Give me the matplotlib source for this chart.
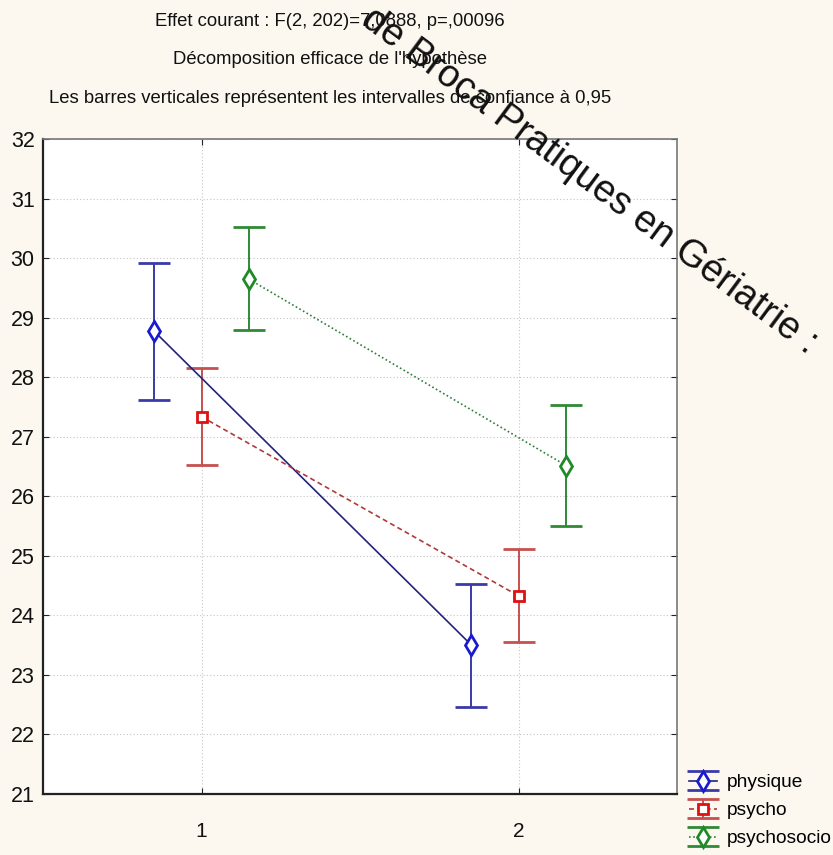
import matplotlib.pyplot as plt
import numpy as np

# données
niveaux = ["1", "2"]
groupes = ["physique", "psycho", "psychosocio"]
moyennes = {
    "physique": [28.78, 23.51],
    "psycho": [27.34, 24.33],
    "psychosocio": [29.65, 26.52],
}
bas = {
    "physique": [27.62, 22.47],
    "psycho": [26.53, 23.55],
    "psychosocio": [28.79, 25.50],
}
haut = {
    "physique": [29.93, 24.53],
    "psycho": [28.16, 25.11],
    "psychosocio": [30.53, 27.54],
}

titres = ["Effet courant : F(2, 202)=7,0888, p=,00096",
          "Décomposition efficace de l'hypothèse",
          "Les barres verticales représentent les intervalles de confiance à 0,95"]
filigrane = "de Broca Pratiques en Gériatrie :"

# styles
decalage = {"physique": -0.15, "psycho": 0.0, "psychosocio": 0.15}
couleur_ligne = {"physique": "#23237a", "psycho": "#b03a3a", "psychosocio": "#2e7d3a"}
couleur_barre = {"physique": "#3a3aa8", "psycho": "#c65050", "psychosocio": "#2f8a35"}
couleur_marque = {"physique": "#1a1ad0", "psycho": "#e01010", "psychosocio": "#1f8a28"}
style = {"physique": "-", "psycho": (0, (3, 2)), "psychosocio": (0, (1, 1.5))}
marque = {"physique": "d", "psycho": "s", "psychosocio": "d"}
taille = {"physique": 10, "psycho": 7.5, "psychosocio": 10}

fond = "#fcf8f0"
police = "Liberation Sans"

fig = plt.figure(figsize=(8.33, 8.55), dpi=100, facecolor=fond)
ax = fig.add_axes([43 / 833, 1 - 794 / 855, 634 / 833, (794 - 139.4) / 855])
ax.set_facecolor("white")

xs = np.arange(1, len(niveaux) + 1)
for g in groupes:
    y = np.array(moyennes[g])
    err = np.array([y - np.array(bas[g]), np.array(haut[g]) - y])
    ax.errorbar(xs + decalage[g], y, yerr=err, color=couleur_ligne[g],
                ls=style[g], lw=1.2, marker=marque[g], ms=taille[g],
                mfc="white", mec=couleur_marque[g], mew=2,
                ecolor=couleur_barre[g], elinewidth=1.4, capsize=11.5,
                capthick=1.6, label=g, zorder=3)

ax.set_xlim(0.5, 2.5)
ax.set_ylim(21, 32)
ax.set_xticks(xs)
ax.set_xticklabels(niveaux, family=police, fontsize=15)
ax.set_yticks(range(21, 33))
ax.set_yticklabels([str(v) for v in range(21, 33)], family=police, fontsize=15.5)
ax.tick_params(axis="both", direction="in", length=4, top=True, right=True,
               colors="#222222", labelcolor="#111111")
ax.tick_params(axis="x", pad=20)
ax.tick_params(axis="y", pad=6)
ax.grid(True, ls=(0, (1, 2)), color="#c4c4c4", lw=0.8)
ax.set_axisbelow(True)
for s in ["left", "bottom"]:
    ax.spines[s].set_color("#222222")
    ax.spines[s].set_linewidth(1.6)
for s in ["top", "right"]:
    ax.spines[s].set_color("#777777")
    ax.spines[s].set_linewidth(1.2)

for i, t in enumerate(titres):
    fig.text(330 / 833, 1 - (21 + 38.5 * i) / 855, t, ha="center", va="center",
             family=police, fontsize=13.3, color="#111111")

fig.legend(loc="upper left", bbox_to_anchor=(689 / 833, 1 - 774 / 855),
           frameon=False, prop={"family": police, "size": 13.8},
           handlelength=1.45, handletextpad=0.5, labelspacing=0.55,
           borderaxespad=0, borderpad=0)

# filigrane
fig.text(360 / 833, 1 - 24 / 855, filigrane,
         rotation=-36.5, rotation_mode="anchor", ha="left", va="baseline",
         family=police, fontsize=27.5, color="#111111", zorder=10)

fig.savefig("out.png", dpi=100, facecolor=fond)
